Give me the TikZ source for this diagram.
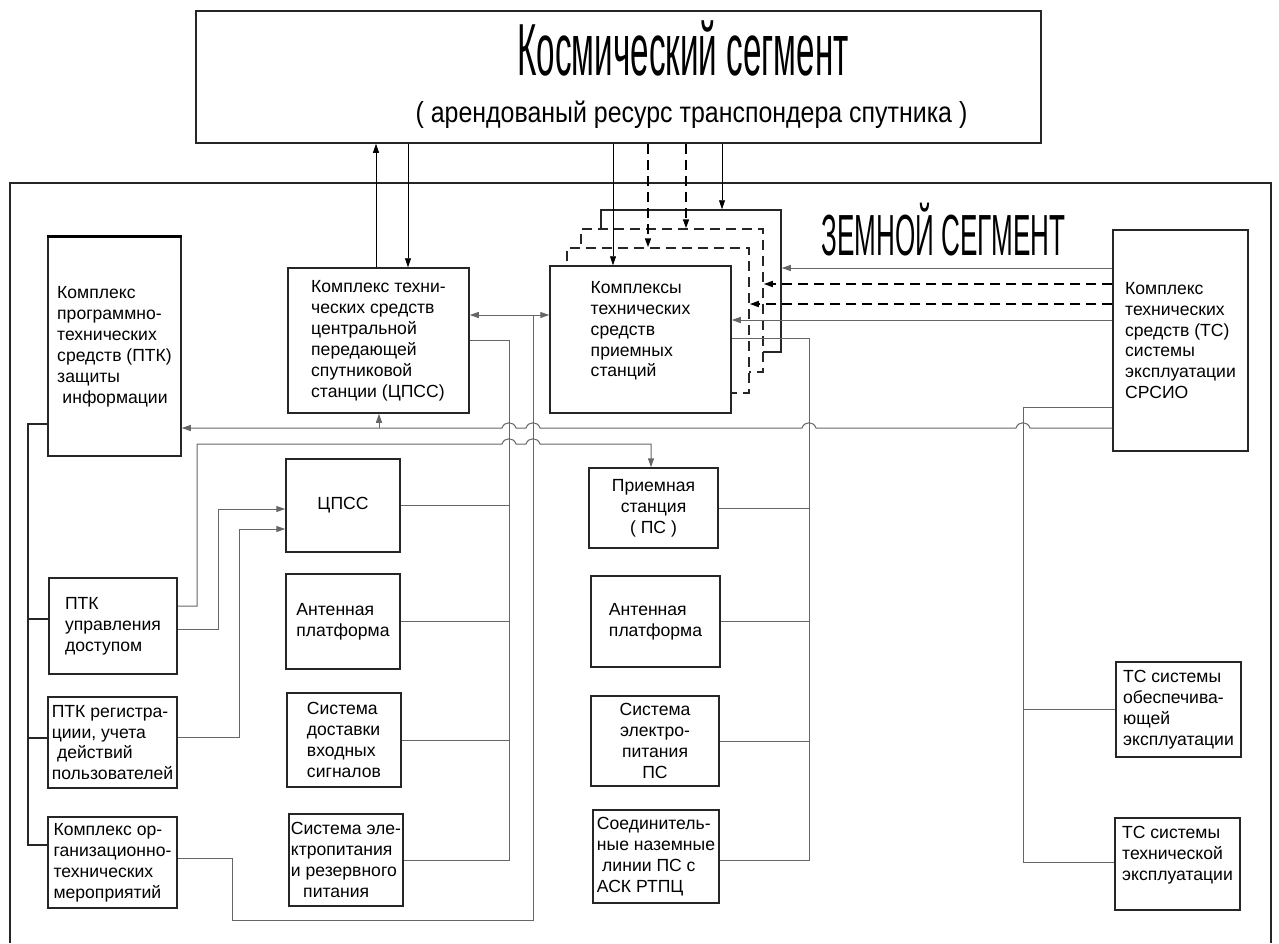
\documentclass[tikz,border=0pt]{standalone}
\usepackage{fontspec}
\setmainfont{Liberation Sans}
\usetikzlibrary{arrows.meta,positioning,calc}

\begin{document}
\begin{tikzpicture}[
    x=0.2mm, y=-0.2mm,
    box/.style={rectangle, draw=black!85, line width=0.3mm, fill=white, inner sep=0pt, align=left, font=\fontsize{10}{11.9}\selectfont},
    link/.style={draw=black!60, line width=0.2mm},
    dashline/.style={dash pattern=on 2mm off 1.2mm, line width=0.3mm},
    arrow/.style={->, >={Triangle[length=1.8mm,width=1.2mm]}},
    ground/.style={draw=black!85, line width=0.35mm}
]
\useasboundingbox (0,0) rectangle (1279,943);

% Space segment
\node[box, minimum width=169mm, minimum height=26.4mm] (space) at (618.5,77) {};
\node[anchor=base] (title) at (683,75) {\scalebox{0.45}[1]{\fontsize{42}{44}\selectfont Космический сегмент}};
\node[anchor=base] (subtitle) at (691.5,122) {\scalebox{0.86}[1]{\fontsize{16.5}{18}\selectfont ( арендованый ресурс транспондера спутника )}};

% Ground segment frame
\draw[ground] (10,943) -- (10,183) -- (1271,183) -- (1271,943);
\node[anchor=base] (gtitle) at (943.5,255) {\scalebox{0.45}[1]{\fontsize{33}{35}\selectfont ЗЕМНОЙ СЕГМЕНТ}};

% Top row
\node[box, minimum width=26.6mm, minimum height=43.8mm] (zash) at (114.5,346.5) {Комплекс\\программно-\\технических\\средств (ПТК)\\защиты\\\hspace*{3pt}информации};
\draw[line width=0.6mm] (zash.north west) -- (zash.north east);
\node[box, minimum width=36.2mm, minimum height=29mm] (cpssK) at (378.5,340.5) {Комплекс техни-\\ческих средств\\центральной\\передающей\\спутниковой\\станции (ЦПСС)};

% Receiving stations (stack)
\node[box, minimum width=36mm, minimum height=28.4mm] (priemC) at (691,281) {};
\node[box, dashline, minimum width=36.4mm, minimum height=28.6mm] (priemB) at (672,300.5) {};
\node[box, dashline, minimum width=36.4mm, minimum height=29mm] (priemA) at (658,320.5) {};
\node[box, minimum width=36.2mm, minimum height=29.4mm] (priemK) at (640.5,339.5) {Комплексы\\технических\\средств\\приемных\\станций\\\mbox{}};

\node[box, minimum width=27mm, minimum height=44.2mm] (tsK) at (1180.5,340.5) {Комплекс\\технических\\средств (ТС)\\системы\\эксплуатации\\СРСИО};

% Left column
\node[box, minimum width=25.6mm, minimum height=19.2mm] (ptkDost) at (113,626) {ПТК\\управления\\доступом};
\node[box, minimum width=25.8mm, minimum height=18.2mm] (ptkReg) at (112.5,742.5) {ПТК регистра-\\циии, учета\\\hspace*{3pt}действий\\пользователей};
\node[box, minimum width=25.8mm, minimum height=18.2mm] (komplOrg) at (112.5,862.5) {Комплекс ор-\\ганизационно-\\технических\\мероприятий};

% Central station column
\node[box, minimum width=22.8mm, minimum height=18.6mm] (cpss) at (343,505.5) {ЦПСС};
\node[box, minimum width=22.8mm, minimum height=19mm] (antL) at (343,621.5) {Антенная\\платформа};
\node[box, minimum width=22.8mm, minimum height=18.8mm] (dost) at (344,740) {Система\\доставки\\входных\\сигналов};
\node[box, minimum width=22.8mm, minimum height=18.4mm] (elpit) at (346,860) {Система эле-\\ктропитания\\и резервного\\\hspace*{7pt}питания};

% Receiving station column
\node[box, align=center, minimum width=25.8mm, minimum height=16mm] (ps) at (653.5,508) {Приемная\\станция\\( ПС )};
\node[box, minimum width=25.8mm, minimum height=18.2mm] (antR) at (655.5,621.5) {Антенная\\платформа};
\node[box, align=center, minimum width=25.6mm, minimum height=18mm] (elps) at (655,741) {Система\\электро-\\питания\\ПС};
\node[box, minimum width=25.2mm, minimum height=18.6mm] (soed) at (656,856.5) {Соединитель-\\ные наземные\\\hspace*{3pt}линии ПС с\\АСК РТПЦ};

% Operation systems
\node[box, minimum width=25mm, minimum height=19mm] (tsObesp) at (1178.5,709.5) {ТС системы\\обеспечива-\\ющей\\эксплуатации};
\node[box, minimum width=25mm, minimum height=18.4mm] (tsTech) at (1177.5,864) {ТС системы\\технической\\эксплуатации\\\mbox{}};

% Space links
\draw[arrow] (cpssK.north -| 376,0) -- (space.south -| 376,0);
\draw[arrow] (space.south -| 408,0) -- (cpssK.north -| 408,0);
\draw[arrow] (space.south -| 613,0) -- (priemK.north -| 613,0);
\draw[arrow, dashline] (space.south -| 648,0) -- (priemA.north -| 648,0);
\draw[arrow, dashline] (space.south -| 686,0) -- (priemB.north -| 686,0);
\draw[arrow] (space.south -| 722,0) -- (priemC.north -| 722,0);

% Control of receiving stations
\draw[link, arrow] (tsK.west |- 0,268) -- (priemC.east |- 0,268);
\draw[arrow, dashline] (tsK.west |- 0,284) -- (priemB.east |- 0,284);
\draw[arrow, dashline] (tsK.west |- 0,304) -- (priemA.east |- 0,304);
\draw[link, arrow] (tsK.west |- 0,320) -- (priemK.east |- 0,320);

% Central <-> receiving
\draw[link, <->, >={Triangle[length=1.8mm,width=1.2mm]}] (cpssK.east |- 0,315) -- (priemK.west |- 0,315);

% Central station bus
\draw[link] (cpssK.east |- 0,340) -| (509,860) -- (elpit.east |- 0,860);
\draw[link] (cpss.east) -- (cpss.east -| 509,0);
\draw[link] (antL.east) -- (antL.east -| 509,0);
\draw[link] (dost.east) -- (dost.east -| 509,0);
\draw[link] (533,315) -- (533,920) -| (232,858) -- (komplOrg.east |- 0,858);

% Left bus
\draw[ground, line width=0.3mm] (zash.west |- 0,424) -| (28,845) -- (komplOrg.west |- 0,845);
\draw[ground, line width=0.3mm] (28,619) -- (ptkDost.west |- 0,619);
\draw[ground, line width=0.3mm] (28,738) -- (ptkReg.west |- 0,738);

% Access control links
\draw[link, arrow] (ptkDost.east |- 0,606) -| (197,444) -- (502,444)
    .. controls (504,437) and (514,437) .. (516,444) -- (526,444)
    .. controls (528,437) and (538,437) .. (540,444) -- (651,444) -- (ps.north -| 651,0);
\draw[link, arrow] (ptkDost.east |- 0,629) -| (218,509) -- (cpss.west |- 0,509);
\draw[link, arrow] (ptkReg.east |- 0,737) -| (239,529) -- (cpss.west |- 0,529);

% Feedback line
\draw[link, arrow] (tsK.west |- 0,428) -- (1030,428)
    .. controls (1028,421) and (1018,421) .. (1016,428) -- (816,428)
    .. controls (814,421) and (804,421) .. (802,428) -- (540,428)
    .. controls (538,421) and (528,421) .. (526,428) -- (516,428)
    .. controls (514,421) and (504,421) .. (502,428) -- (zash.east |- 0,428);
\draw[link, arrow] (379,428) -- (cpssK.south -| 379,0);

% Receiving station bus
\draw[link] (priemK.east |- 0,338) -| (809,860) -- (soed.east |- 0,860);
\draw[link] (ps.east) -- (ps.east -| 809,0);
\draw[link] (antR.east) -- (antR.east -| 809,0);
\draw[link] (elps.east) -- (elps.east -| 809,0);

% Operation systems bus
\draw[link] (tsK.west |- 0,407) -| (1023,862) -- (tsTech.west |- 0,862);
\draw[link] (tsObesp.west) -- (tsObesp.west -| 1023,0);

\end{tikzpicture}
\end{document}
